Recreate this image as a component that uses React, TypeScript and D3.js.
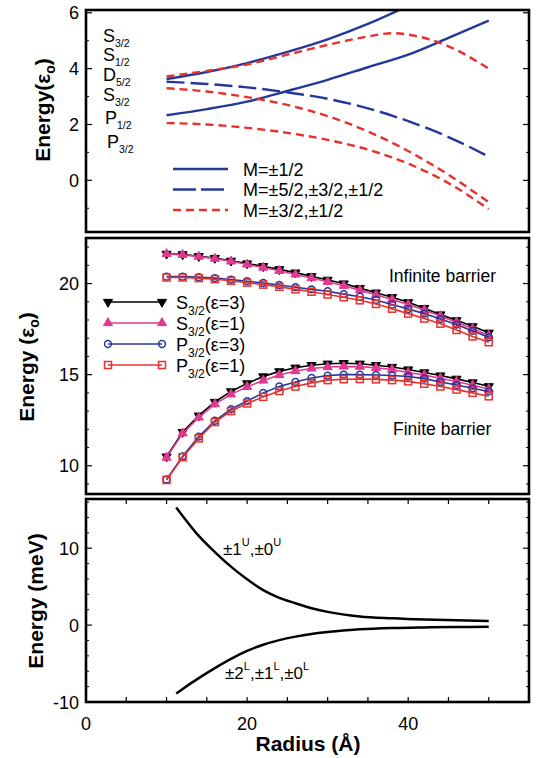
import * as d3 from 'd3';

// ---- top panel: energy levels vs radius ----
const topRadius = [10, 15, 20, 25, 30, 35, 40, 45, 50];
const topRadiusShort = [10, 15, 20, 25, 30, 35, 40];
const topRadiusPeak = [10, 15, 20, 25, 30, 35, 38, 40, 45, 50];
const solidUpper = [3.63, 3.88, 4.2, 4.6, 5.05, 5.6, 6.25];
const solidLower = [2.33, 2.55, 2.82, 3.2, 3.6, 4.05, 4.5, 5.1, 5.72];
const longDash = [3.53, 3.45, 3.33, 3.15, 2.92, 2.58, 2.12, 1.55, 0.85];
const redUpper = [3.72, 3.92, 4.15, 4.5, 4.85, 5.15, 5.27, 5.22, 4.8, 4.0];
const redMiddle = [3.3, 3.18, 2.98, 2.7, 2.3, 1.75, 1.05, 0.2, -0.78];
const redLower = [2.05, 2.0, 1.88, 1.7, 1.45, 1.1, 0.6, -0.1, -1.03];
const levelLabels = [['S', '3/2'], ['S', '1/2'], ['D', '5/2'], ['S', '3/2'], ['P', '1/2'], ['P', '3/2']];
const topLegend = ['M=±1/2', 'M=±5/2,±3/2,±1/2', 'M=±3/2,±1/2'];
const topTicks = [0, 2, 4, 6];

// ---- middle panel: infinite / finite barrier ----
const midRadius = [10, 12, 14, 16, 18, 20, 22, 24, 26, 28, 30, 32, 34, 36, 38, 40, 42, 44, 46, 48, 50];
const infS3 = [21.63, 21.6, 21.5, 21.4, 21.25, 21.1, 20.95, 20.78, 20.6, 20.4, 20.2, 20.0, 19.75, 19.5, 19.25, 18.97, 18.65, 18.3, 17.98, 17.65, 17.3];
const infS1 = [21.63, 21.58, 21.48, 21.37, 21.22, 21.05, 20.88, 20.7, 20.5, 20.3, 20.1, 19.88, 19.64, 19.38, 19.12, 18.85, 18.55, 18.22, 17.88, 17.52, 17.15];
const infP3 = [20.38, 20.38, 20.35, 20.3, 20.22, 20.13, 20.03, 19.92, 19.8, 19.68, 19.58, 19.42, 19.28, 19.1, 18.85, 18.6, 18.35, 18.05, 17.75, 17.4, 17.05];
const infP1 = [20.33, 20.33, 20.3, 20.24, 20.15, 20.05, 19.94, 19.82, 19.68, 19.55, 19.4, 19.25, 19.08, 18.88, 18.62, 18.35, 18.08, 17.8, 17.45, 17.1, 16.78];
const finS3 = [10.5, 11.85, 12.75, 13.5, 14.08, 14.52, 14.9, 15.18, 15.38, 15.52, 15.6, 15.63, 15.6, 15.52, 15.42, 15.28, 15.12, 14.95, 14.77, 14.57, 14.36];
const finS1 = [10.45, 11.78, 12.65, 13.38, 13.92, 14.33, 14.68, 14.98, 15.2, 15.34, 15.42, 15.45, 15.44, 15.38, 15.28, 15.12, 14.98, 14.8, 14.62, 14.42, 14.21];
const finP3 = [9.25, 10.52, 11.6, 12.47, 13.1, 13.55, 14.0, 14.35, 14.6, 14.82, 14.95, 15.0, 15.0, 14.98, 14.95, 14.9, 14.78, 14.6, 14.43, 14.25, 14.08];
const finP1 = [9.22, 10.47, 11.5, 12.4, 13.0, 13.42, 13.78, 14.1, 14.35, 14.55, 14.7, 14.75, 14.76, 14.74, 14.7, 14.63, 14.5, 14.35, 14.18, 14.0, 13.81];
const midLegend = [['S', '3/2', '(ε=3)'], ['S', '3/2', '(ε=1)'], ['P', '3/2', '(ε=3)'], ['P', '3/2', '(ε=1)']];
const midTicks = [10, 15, 20];

// ---- bottom panel: splitting in meV ----
const botRadius = [11.2, 12, 14, 16, 18, 20, 22, 24, 26, 28, 30, 34, 38, 42, 46, 50];
const splitUpper = [15.3, 14.2, 11.6, 9.5, 7.6, 5.95, 4.55, 3.55, 2.85, 2.2, 1.72, 1.12, 0.88, 0.72, 0.62, 0.55];
const splitLower = [-8.9, -8.3, -6.9, -5.6, -4.4, -3.35, -2.55, -1.95, -1.5, -1.15, -0.9, -0.55, -0.38, -0.3, -0.25, -0.22];
const botTicks = [-10, 0, 10];
const xTicks = [0, 20, 40];

const FONT = "'Liberation Sans', Arial, Helvetica, sans-serif";
const BLUE = '#24389a';
const RED = '#e6312f';
const PINK = '#e2388f';

const L = 86, R = 529;
const x = d3.scaleLinear().domain([0, 55]).range([L, R]);
const yTop = d3.scaleLinear().domain([-1.85, 6.1]).range([232, 10]);
const yMid = d3.scaleLinear().domain([8.45, 22.5]).range([494, 238]);
const yBot = d3.scaleLinear().domain([-10, 16.4]).range([702, 499]);

function path(xs: number[], ys: number[], y: d3.ScaleLinear<number, number>, curve: any = d3.curveMonotoneX) {
  const pts = xs.map((r, i) => [r, ys[i]] as [number, number]);
  return d3.line<[number, number]>().x(d => x(d[0])).y(d => y(d[1])).curve(curve)(pts) || '';
}

function Frame({ y, minor, major }: { y: d3.ScaleLinear<number, number>; minor: number[]; major: number[] }) {
  const [y0, y1] = y.range();
  return (
    <g>
      {minor.map(v => (
        <g key={'m' + v}>
          <line x1={L} x2={L + 3} y1={y(v)} y2={y(v)} stroke="#000" strokeWidth={1} />
          <line x1={R} x2={R - 3} y1={y(v)} y2={y(v)} stroke="#000" strokeWidth={1} />
        </g>
      ))}
      {major.map(v => (
        <g key={'M' + v}>
          <line x1={L} x2={L + 6} y1={y(v)} y2={y(v)} stroke="#000" strokeWidth={1.2} />
          <line x1={R} x2={R - 6} y1={y(v)} y2={y(v)} stroke="#000" strokeWidth={1.2} />
          <text x={79} y={y(v) + 6.5} textAnchor="end" fontSize={18}>{v}</text>
        </g>
      ))}
      <rect x={L} y={y1} width={R - L} height={y0 - y1} fill="none" stroke="#000" strokeWidth={2.6} />
    </g>
  );
}

function Marker({ kind, cx, cy }: { kind: number; cx: number; cy: number }) {
  if (kind === 0) {
    const d = d3.symbol(d3.symbolTriangle, 36)() || '';
    return <path d={d} transform={`translate(${cx},${cy}) rotate(180)`} fill="#000" stroke="#000" strokeWidth={1} />;
  }
  if (kind === 1) {
    const d = d3.symbol(d3.symbolTriangle, 36)() || '';
    return <path d={d} transform={`translate(${cx},${cy})`} fill={PINK} stroke={PINK} strokeWidth={1} />;
  }
  if (kind === 2) return <circle cx={cx} cy={cy} r={3.4} fill="none" stroke={BLUE} strokeWidth={1.5} />;
  return <rect x={cx - 3.5} y={cy - 3.5} width={7} height={7} fill="none" stroke={RED} strokeWidth={1.5} />;
}

export default function App() {
  const midColors = ['#000', PINK, BLUE, RED];
  const midSeries = [[infS3, finS3], [infS1, finS1], [infP3, finP3], [infP1, finP1]];
  const topMinor = [-1, 1, 3, 5];
  const midMinor = [9, 11, 12, 13, 14, 16, 17, 18, 19, 21, 22];
  const botMinor = [-8, -6, -4, -2, 2, 4, 6, 8, 12, 14, 16];
  const xMinor = [5, 10, 15, 25, 30, 35, 45, 50];
  const topLevelY = [42, 61, 81, 101, 124, 148];
  const topLevelX = [103, 103, 103, 103, 105, 107];

  return (
    <svg width={537} height={758} style={{ position: 'absolute', left: 0, top: 0, background: '#fff' }} fontFamily={FONT}>
      <defs>
        <clipPath id="clipTop"><rect x={L} y={10} width={R - L} height={222} /></clipPath>
      </defs>

      {/* ---------- top panel ---------- */}
      <g clipPath="url(#clipTop)" fill="none" strokeWidth={2.4}>
        <path d={path(topRadiusShort, solidUpper, yTop)} stroke={BLUE} />
        <path d={path(topRadius, solidLower, yTop)} stroke={BLUE} />
        <path d={path(topRadius, longDash, yTop)} stroke={BLUE} strokeDasharray="18,6" />
        <path d={path(topRadiusPeak, redUpper, yTop)} stroke={RED} strokeDasharray="8,5" />
        <path d={path(topRadius, redMiddle, yTop)} stroke={RED} strokeDasharray="8,5" />
        <path d={path(topRadius, redLower, yTop)} stroke={RED} strokeDasharray="8,5" />
      </g>
      {levelLabels.map((l, i) => (
        <text key={i} x={topLevelX[i]} y={topLevelY[i]} fontSize={18}>
          {l[0]}<tspan fontSize={10.5} dy={5}>{l[1]}</tspan>
        </text>
      ))}
      {topLegend.map((t, i) => {
        const yy = 169 + i * 20.5;
        const dash = i === 0 ? undefined : i === 1 ? '23,5' : '8,5';
        return (
          <g key={t}>
            <line x1={173} x2={228} y1={yy} y2={yy} stroke={i === 2 ? RED : BLUE} strokeWidth={2.4} strokeDasharray={dash} />
            <text x={243} y={yy + 6.5} fontSize={18}>{t}</text>
          </g>
        );
      })}
      <Frame y={yTop} minor={topMinor} major={topTicks} />
      <text transform="translate(50,110) rotate(-90)" textAnchor="middle" fontSize={21} fontWeight="bold">
        Energy(ε<tspan fontSize={14} dy={5}>o</tspan><tspan dy={-5}>)</tspan>
      </text>

      {/* ---------- middle panel ---------- */}
      {midSeries.map((pair, s) => (
        <g key={s}>
          {pair.map((vals, b) => (
            <g key={b}>
              <path d={path(midRadius, vals, yMid, d3.curveLinear)} fill="none" stroke={midColors[s]} strokeWidth={1.6} />
              {midRadius.map((r, i) => <Marker key={i} kind={s} cx={x(r)} cy={yMid(vals[i])} />)}
            </g>
          ))}
        </g>
      ))}
      {midLegend.map((l, i) => {
        const yy = 302 + i * 21;
        return (
          <g key={i}>
            <line x1={108} x2={162} y1={yy} y2={yy} stroke={midColors[i]} strokeWidth={1.6} />
            <Marker kind={i} cx={108} cy={yy} />
            <Marker kind={i} cx={162} cy={yy} />
            <text x={176} y={yy + 6.5} fontSize={18}>
              {l[0]}<tspan fontSize={12} dy={6}>{l[1]}</tspan><tspan dy={-6}>{l[2]}</tspan>
            </text>
          </g>
        );
      })}
      <text x={389} y={282} fontSize={17.5}>Infinite barrier</text>
      <text x={393} y={435} fontSize={17.5}>Finite barrier</text>
      <Frame y={yMid} minor={midMinor} major={midTicks} />
      <text transform="translate(34,367) rotate(-90)" textAnchor="middle" fontSize={21} fontWeight="bold">
        Energy (ε<tspan fontSize={14} dy={5}>o</tspan><tspan dy={-5}>)</tspan>
      </text>

      {/* ---------- bottom panel ---------- */}
      <path d={path(botRadius, splitUpper, yBot)} fill="none" stroke="#000" strokeWidth={2.5} />
      <path d={path(botRadius, splitLower, yBot)} fill="none" stroke="#000" strokeWidth={2.5} />
      <text x={223} y={555} fontSize={17}>
        ±1<tspan fontSize={11} dy={-9}>U</tspan><tspan dy={9}>,±0</tspan><tspan fontSize={11} dy={-9}>U</tspan>
      </text>
      <text x={225} y={679} fontSize={17}>
        ±2<tspan fontSize={11} dy={-9}>L</tspan><tspan dy={9}>,±1</tspan><tspan fontSize={11} dy={-9}>L</tspan><tspan dy={9}>,±0</tspan><tspan fontSize={11} dy={-9}>L</tspan>
      </text>
      {xMinor.concat(xTicks).map(v => (
        <g key={'x' + v}>
          <line x1={x(v)} x2={x(v)} y1={702} y2={697} stroke="#000" strokeWidth={1.2} />
          <line x1={x(v)} x2={x(v)} y1={499} y2={504} stroke="#000" strokeWidth={1.2} />
        </g>
      ))}
      {xTicks.map(v => (
        <text key={'xl' + v} x={x(v)} y={730} textAnchor="middle" fontSize={18}>{v}</text>
      ))}
      <Frame y={yBot} minor={botMinor} major={botTicks} />
      <text transform="translate(43,601) rotate(-90)" textAnchor="middle" fontSize={21} fontWeight="bold">Energy (meV)</text>
      <text x={308} y={751} textAnchor="middle" fontSize={21} fontWeight="bold">Radius (Å)</text>
    </svg>
  );
}
